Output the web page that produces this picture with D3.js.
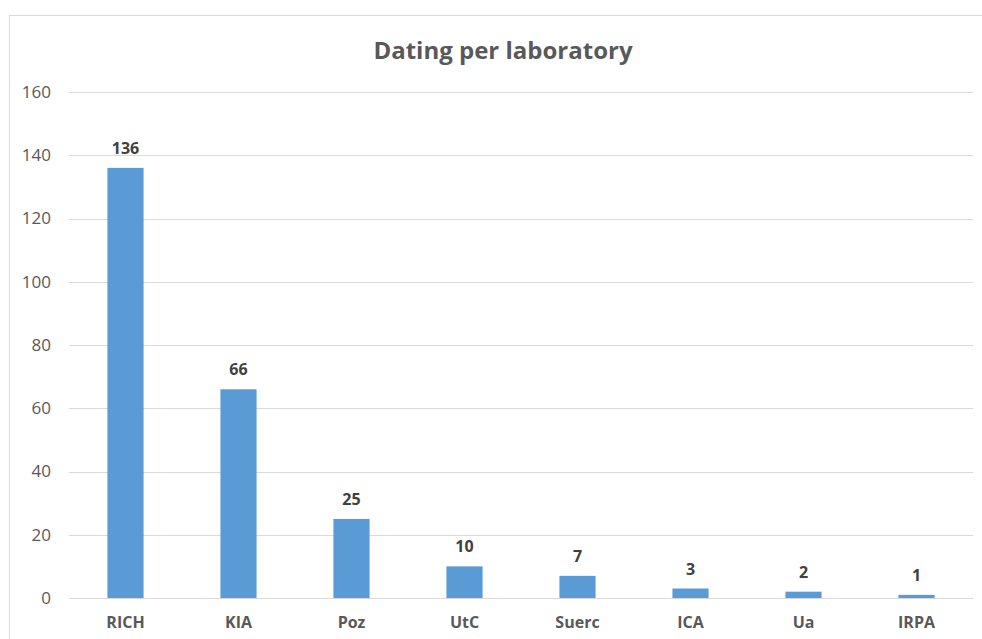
<!DOCTYPE html>
<html>
<head>
<meta charset="utf-8">
<script src="https://cdn.jsdelivr.net/npm/d3@7"></script>
<style>
  body { margin: 0; background: #fff; }
  svg { display: block; font-family: "Open Sans", "Liberation Sans", sans-serif; }
</style>
</head>
<body>
<svg id="chart"></svg>
<script>
const WIDTH = 982;
const HEIGHT = 639;

// data
const labs = ["RICH", "KIA", "Poz", "UtC", "Suerc", "ICA", "Ua", "IRPA"];
const counts = [136, 66, 25, 10, 7, 3, 2, 1];
const yTicks = [0, 20, 40, 60, 80, 100, 120, 140, 160];

const plot = { left: 69, right: 973, top: 92, bottom: 598 };

const svg = d3.select("#chart").attr("width", WIDTH).attr("height", HEIGHT);

// chart frame
svg.append("rect")
  .attr("x", 9.5).attr("y", 15.5)
  .attr("width", 1000).attr("height", 700)
  .attr("fill", "#fff")
  .attr("stroke", "#d9d9d9")
  .attr("stroke-width", 1);

const x = d3.scaleBand()
  .domain(labs)
  .range([plot.left, plot.right])
  .paddingInner(0.68)
  .paddingOuter(0.34);

const y = d3.scaleLinear()
  .domain([0, 160])
  .range([plot.bottom, plot.top]);

// gridlines
const grid = svg.append("g");
grid.selectAll("line")
  .data(yTicks)
  .enter()
  .append("line")
  .attr("x1", plot.left)
  .attr("x2", plot.right)
  .attr("y1", d => Math.round(y(d)) + 0.5)
  .attr("y2", d => Math.round(y(d)) + 0.5)
  .attr("stroke", "#d9d9d9")
  .attr("stroke-width", 1);

// y axis labels
const yAxis = d3.axisLeft(y).tickValues(yTicks).tickSize(0).tickPadding(18);
const yg = svg.append("g")
  .attr("transform", `translate(${plot.left},0)`)
  .call(yAxis);
yg.select(".domain").remove();
yg.selectAll("text")
  .attr("fill", "#595959")
  .style("font-size", "17px")
  .style("font-family", "\"Open Sans\", \"Liberation Sans\", sans-serif");

// bars
svg.append("g")
  .selectAll("rect")
  .data(labs)
  .enter()
  .append("rect")
  .attr("x", d => x(d))
  .attr("width", x.bandwidth())
  .attr("y", (d, i) => y(counts[i]))
  .attr("height", (d, i) => y(0) - y(counts[i]))
  .attr("fill", "#5b9bd5");

// value labels
svg.append("g")
  .selectAll("text")
  .data(labs)
  .enter()
  .append("text")
  .attr("x", d => x(d) + x.bandwidth() / 2)
  .attr("y", (d, i) => y(counts[i]) - 14)
  .attr("text-anchor", "middle")
  .attr("fill", "#404040")
  .style("font-size", "16px")
  .style("font-weight", "bold")
  .text((d, i) => counts[i]);

// category axis
const xAxis = d3.axisBottom(x).tickSize(0).tickPadding(19);
const xg = svg.append("g")
  .attr("transform", `translate(0,${plot.bottom})`)
  .call(xAxis);
xg.select(".domain").remove();
xg.selectAll("text")
  .attr("fill", "#595959")
  .style("font-size", "16px")
  .style("font-weight", "bold")
  .style("font-family", "\"Open Sans\", \"Liberation Sans\", sans-serif");

// title
svg.append("text")
  .attr("x", 503)
  .attr("y", 59)
  .attr("text-anchor", "middle")
  .attr("fill", "#595959")
  .style("font-size", "24px")
  .style("font-weight", "bold")
  .text("Dating per laboratory");
</script>
</body>
</html>
